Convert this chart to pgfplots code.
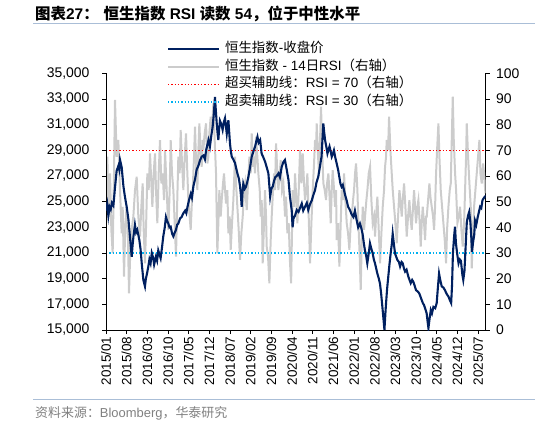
\documentclass[border=0pt]{standalone}
\usepackage{fontspec}
\setmainfont{Liberation Sans}
\newfontfamily\cjk{Noto Sans CJK SC}
\usepackage{pgfplots}
\pgfplotsset{compat=1.18}
\definecolor{hsi}{RGB}{0,32,96}
\definecolor{rsi}{RGB}{204,204,204}
\definecolor{rulec}{RGB}{170,190,215}
\definecolor{cyanl}{RGB}{0,176,240}
\definecolor{srcgray}{RGB}{128,128,128}
\pgfplotsset{
  common/.style={
    at={(106bp,95bp)}, anchor=south west, scale only axis,
    width=379.7bp, height=256.7bp,
    xmin=0, xmax=128.6,
    tick align=outside, major tick length=4bp,
    tick style={black, line width=0.7bp},
    axis line style={-, black, line width=0.7bp},
    /pgf/number format/assume math mode=true,
    ticklabel style={font=\fontsize{14}{16}\selectfont},
    clip=true,
  }
}
\begin{document}
\begin{tikzpicture}[x=1bp,y=1bp]
\useasboundingbox (0,0) rectangle (535,425);
\node[anchor=base west, inner sep=0] at (35,405) {\fontsize{15.5}{17}\selectfont\bfseries {\cjk\bfseries 图表}27{\cjk\bfseries ：}\hspace{5bp}{\cjk\bfseries 恒生指数} RSI {\cjk\bfseries 读数} 54{\cjk\bfseries ，位于中性水平}};
\draw[rulec, line width=1.2bp] (33,401.5) -- (535,401.5);
\draw[rulec, line width=1bp] (33,26) -- (535,26);
\node[anchor=base west, inner sep=0, text=srcgray] at (35,8) {\fontsize{13}{15}\selectfont {\cjk 资料来源：}Bloomberg{\cjk ，华泰研究}};

\begin{axis}[common,
  ymin=0, ymax=100, ytick={0,10,...,100},
  axis y line*=right, axis x line=none,
  yticklabel style={xshift=3bp},
]
\addplot[rsi, line width=2bp] coordinates {
(0,54.5) (0.45,67.5) (0.9,44.2) (1.36,61) (1.81,39) (2.26,29.9) (2.71,61) (3.05,89.6) (3.61,67.5) (4.18,74) (4.74,54.5) (5.31,37.7) (5.65,48) (6.1,20.8) (6.55,41.6) (7.0,48) (7.45,35) (7.79,14.3) (8.24,31.2) (8.69,39) (9.26,44.2) (9.82,54.5) (10.39,59.7) (10.95,44.2) (11.52,36.4) (11.97,48) (12.42,57.1) (12.76,39) (13.21,26) (13.66,44.2) (14.0,61) (14.45,54.5) (14.91,68.8) (15.36,57.1) (15.7,48) (16.15,61) (16.6,68.8) (16.94,54.5) (17.39,41.6) (17.84,61) (18.29,74) (18.74,57.1) (19.2,61) (19.65,50.6) (19.99,70.1) (20.55,54.5) (21.12,39) (21.57,54.5) (21.91,74) (22.36,61) (22.81,54.5) (23.26,41.6) (23.71,28.6) (24.16,51.9) (24.5,67.5) (24.95,61) (25.29,77.9) (25.75,64.9) (26.2,54.5) (26.65,67.5) (27.1,76.6) (27.55,61) (27.89,50.6) (28.34,44.2) (28.68,39) (29.02,48) (29.36,54.5) (29.81,67.5) (30.15,79.2) (30.6,61) (30.94,54.5) (31.28,70.1) (31.62,80.5) (32.07,67.5) (32.41,63.6) (32.75,74) (32.97,70.1) (33.42,76.6) (33.88,80.5) (34.33,64.9) (34.67,67.5) (35.0,76.6) (35.46,83.1) (35.91,77.9) (36.36,88.3) (36.81,74) (37.26,61) (37.71,29.9) (38.05,41.6) (38.39,54.5) (38.84,44.2) (39.18,50.6) (39.63,57.1) (39.97,61) (40.31,54.5) (40.65,49.3) (41.1,54.5) (41.44,37.7) (41.89,44.2) (42.23,31.2) (42.68,41.6) (43.13,50.6) (43.7,67.5) (44.04,57.1) (44.49,48) (44.94,39) (45.39,27.3) (45.84,37.7) (46.3,44.2) (46.75,54.5) (47.09,57.1) (47.66,46.7) (48.1,57.1) (48.56,67.5) (49.01,61) (49.35,76.6) (49.8,63.6) (50.14,67.5) (50.47,61) (50.81,75.3) (51.26,67.5) (51.6,61) (52.06,54.5) (52.39,44.2) (52.73,50.6) (53.07,26) (53.52,41.6) (53.86,54.5) (54.2,44.2) (54.43,32.5) (54.88,28.6) (55.33,18.2) (55.78,35) (56.12,44.2) (56.57,54.5) (56.91,61) (57.25,54.5) (57.59,72.7) (58.04,61) (58.38,54.5) (58.83,61) (59.17,66.2) (59.62,54.5) (60.07,57.1) (60.64,44.2) (60.98,51.9) (61.43,37.7) (61.88,41.6) (62.33,26) (62.7,18.2) (63.23,54.5) (63.69,48) (64.02,61) (64.47,50.6) (64.82,41.6) (65.27,54.5) (65.72,70.1) (66.17,57.1) (66.62,68.8) (67.07,57.1) (67.41,50.6) (67.86,54.5) (68.2,61) (68.65,44.2) (69.11,26) (69.56,41.6) (70.01,54.5) (70.46,64.9) (70.8,74) (71.14,70.1) (71.36,80.5) (71.82,67.5) (72.15,61) (72.49,74) (72.83,87) (73.28,67.5) (73.62,57.1) (74.07,54.5) (74.53,50.6) (74.86,57.1) (75.32,61) (75.77,50.6) (76.11,41.6) (76.45,54.5) (76.78,62.3) (77.24,54.5) (77.57,48) (77.91,54.5) (78.14,35) (78.59,41.6) (79.04,24.7) (79.49,41.6) (79.83,54.5) (80.28,50.6) (80.62,61) (81.07,50.6) (81.53,41.6) (81.98,37.7) (82.43,31.2) (82.88,41.6) (83.22,44.2) (83.67,50.6) (84.01,54.5) (84.35,61) (84.69,64.9) (85.14,54.5) (85.48,41.6) (85.93,28.6) (86.27,15.6) (86.61,35) (86.95,48) (87.4,39) (87.74,44.2) (88.19,50.6) (88.53,54.5) (88.98,61) (89.43,63.6) (89.88,50.6) (90.33,41.6) (90.79,44.2) (91.12,36.4) (91.46,44.2) (91.91,51.9) (92.37,39) (92.82,26) (93.27,37.7) (93.72,48) (94.17,54.5) (94.51,63.6) (94.85,67.5) (95.08,74) (95.53,70.1) (95.87,83.1) (96.32,70.1) (96.77,61) (97.11,54.5) (97.56,48) (98.01,41.6) (98.46,33.8) (98.92,44.2) (99.37,54.5) (99.71,50.6) (100.16,44.2) (100.5,50.6) (100.95,57.1) (101.4,48) (101.85,36.4) (102.3,44.2) (102.75,50.6) (103.09,44.2) (103.54,39) (103.99,48) (104.34,54.5) (104.67,48) (105.01,41.6) (105.46,48) (105.8,50.6) (106.25,41.6) (106.59,32.5) (106.93,41.6) (107.27,48) (107.72,41.6) (108.06,35) (108.4,44.2) (108.63,44.2) (109.08,50.6) (109.53,57.1) (109.87,51.9) (110.32,48) (110.77,44.2) (111.11,39) (111.45,48) (111.79,61) (112.13,70.1) (112.58,80.5) (112.92,67.5) (113.37,54.5) (113.82,48) (114.27,41.6) (114.72,35) (115.18,26) (115.51,39) (115.97,48) (116.42,54.5) (116.76,57.1) (117.1,74) (117.44,90.9) (117.78,74) (118.23,61) (118.57,54.5) (119.02,41.6) (119.47,44.2) (119.92,48) (120.37,39) (120.82,32.5) (121.28,41.6) (121.61,54.5) (121.95,67.5) (122.18,80.5) (122.63,67.5) (123.08,57.1) (123.53,48) (123.87,24) (124.32,39) (124.66,48) (125.11,54.5) (125.56,61) (126.01,67.5) (126.47,74) (126.81,61) (127.26,57.1) (127.71,64.9) (128.05,61) (128.5,53.2) (128.6,56)
};
\addplot[red, line width=1.3bp, dash pattern=on 1.3bp off 2bp] coordinates {(0,70) (128.6,70)};
\addplot[cyanl, line width=1.3bp, dash pattern=on 1.3bp off 2bp] coordinates {(0,30) (128.6,30)};
\end{axis}

\begin{axis}[common,
  ymin=15000, ymax=35000, ytick={15000,17000,...,35000},
  axis y line*=left, axis x line*=bottom,
  /pgf/number format/fixed,
  /pgf/number format/1000 sep={,},
  yticklabel style={xshift=-9bp},
  scaled y ticks=false,
  xtick={0,7,...,126},
  xticklabels={2015/01,2015/08,2016/03,2016/10,2017/05,2017/12,2018/07,2019/02,2019/09,2020/04,2020/11,2021/06,2022/01,2022/08,2023/03,2023/10,2024/05,2024/12,2025/07},
  xticklabel style={rotate=90, anchor=east, font=\fontsize{13.5}{15}\selectfont, xshift=1bp},
  legend style={at={(0.16,1.125)}, anchor=north west, draw=none, fill=none,
    font=\fontsize{13.5}{15}\selectfont, row sep=1.5bp, column sep=4bp, inner sep=0pt,
    nodes={inner sep=1bp, text height=10.5bp, text depth=3.5bp}},
  legend cell align=left,
  legend image code/.code={\draw[#1] (0bp,0bp) -- (51bp,0bp);},
]
\addplot[hsi, line width=2.1bp] coordinates {
(0,24300) (0.4,24800) (0.8,23900) (1.2,24600) (1.6,24400) (2.0,24900) (2.5,24700) (3.05,26100) (3.6,27400) (4.2,27800) (4.5,27500) (4.75,28250) (5.3,27700) (5.9,26200) (6.4,25400) (7.0,24600) (7.6,23600) (8.1,22300) (8.7,20700) (9.0,21600) (9.3,22300) (9.8,23200) (10.2,22600) (10.6,22800) (11.3,22000) (11.7,21300) (12.1,20200) (12.65,18900) (13.2,18400) (13.5,19000) (13.8,19300) (14.3,19900) (14.7,20500) (15.1,20200) (15.5,21000) (16.0,20600) (16.3,20100) (16.9,20700) (17.3,20400) (17.7,21200) (18.1,20900) (18.5,20600) (19.0,21500) (19.4,22300) (19.9,23000) (20.3,23800) (20.7,23500) (21.1,23300) (21.5,23000) (21.9,23050) (22.4,22500) (22.8,22300) (23.3,22600) (23.7,22800) (24.1,23200) (24.5,23300) (25.1,23700) (25.6,23800) (26.2,24100) (26.8,24300) (27.2,24100) (27.6,24600) (28.2,25200) (28.7,25600) (29.1,25300) (29.6,26200) (30.2,26800) (30.7,27500) (31.3,27800) (31.8,28200) (32.4,28500) (33.0,28600) (33.5,28300) (33.9,29000) (34.3,29400) (34.7,29800) (35.2,29300) (35.7,30200) (36.1,30800) (36.5,31800) (36.9,33150) (37.2,32100) (37.5,31100) (37.8,30300) (38.05,29800) (38.3,30600) (38.6,31300) (39.1,31000) (39.5,30600) (39.9,31200) (40.3,31500) (40.6,30900) (40.9,30300) (41.2,30900) (41.45,31350) (41.7,30500) (42.0,29500) (42.3,28900) (42.6,28500) (43.1,28300) (43.7,28000) (44.1,27600) (44.5,27200) (45.0,26800) (45.4,26200) (45.7,25500) (45.95,24600) (46.2,25600) (46.5,26400) (47.0,26000) (47.4,26150) (47.8,26500) (48.2,26900) (48.8,27700) (49.35,28500) (49.9,28900) (50.5,29300) (50.9,29700) (51.3,30050) (51.7,29600) (52.2,29800) (52.7,28750) (53.2,28500) (53.9,28100) (54.4,27700) (55.0,27200) (55.3,26300) (55.6,25400) (56.0,26000) (56.5,26200) (56.9,26600) (57.3,26900) (57.8,27000) (58.4,27200) (58.9,26900) (59.5,27700) (60.1,28100) (60.6,28250) (61.2,27500) (61.8,26700) (62.3,25400) (62.9,24300) (63.2,23000) (63.5,23700) (64.0,23900) (64.6,24350) (65.2,24200) (65.7,24500) (66.3,24850) (66.8,24300) (67.4,24600) (68.0,24900) (68.5,24350) (69.1,24800) (69.7,25100) (70.2,25500) (70.8,25900) (71.3,26500) (71.9,26950) (72.5,27800) (73.0,28500) (73.3,29800) (73.6,31100) (73.9,30400) (74.2,29800) (74.6,29300) (75.0,28750) (75.3,29000) (75.7,29300) (76.1,28900) (76.45,28500) (76.8,28700) (77.2,29000) (77.6,28500) (78.1,28000) (78.6,27500) (79.0,26950) (79.4,26400) (79.8,26150) (80.2,26300) (80.6,25900) (81.0,25500) (81.5,25100) (82.0,24600) (82.6,24350) (83.2,24000) (83.8,23800) (84.3,24300) (84.9,23550) (85.4,23000) (86.0,23300) (86.5,22900) (86.9,22500) (87.3,21800) (87.7,21200) (88.1,20800) (88.5,20200) (89.0,21000) (89.4,21750) (89.9,21300) (90.3,21000) (90.7,20500) (91.1,20200) (91.5,19800) (91.9,19400) (92.4,19000) (92.8,18600) (93.2,17800) (93.6,16800) (94.0,15800) (94.3,15000) (94.6,16200) (94.85,17100) (95.2,18200) (95.6,19150) (96.0,20100) (96.4,20950) (96.8,21700) (97.1,22500) (97.5,21700) (97.9,20950) (98.3,20700) (98.7,20450) (99.2,20300) (99.6,19950) (100.1,20300) (100.5,20200) (100.9,19800) (101.3,19550) (101.8,19700) (102.4,19150) (102.8,18900) (103.2,18650) (103.7,18900) (104.1,18750) (104.6,18400) (105.0,18100) (105.6,18000) (106.1,17850) (106.5,17600) (106.9,17350) (107.3,17100) (107.7,16950) (108.2,16600) (108.6,16300) (108.9,15700) (109.2,15150) (109.6,15900) (110.0,16550) (110.4,16300) (110.9,16800) (111.5,16700) (112.0,17100) (112.4,18300) (112.8,19400) (113.2,18900) (113.7,18400) (114.3,18300) (114.8,18100) (115.4,17800) (116.0,17600) (116.5,17300) (116.9,17100) (117.2,18500) (117.5,21000) (117.9,22300) (118.2,23050) (118.5,21800) (118.9,21000) (119.4,20200) (119.8,20500) (120.2,20400) (120.7,19300) (121.0,18900) (121.4,19600) (121.8,21500) (122.2,23400) (122.6,23900) (123.0,24200) (123.4,23400) (123.7,22300) (123.95,21100) (124.3,21800) (124.7,22400) (125.0,23500) (125.4,23200) (125.9,23800) (126.3,24200) (126.7,24600) (127.1,24500) (127.5,25100) (128.0,25300) (128.4,25400) (128.6,25300)
};
\addlegendentry{{\cjk 恒生指数}-{\cjk 收盘价}}
\addlegendimage{rsi, line width=2bp}
\addlegendentry{{\cjk 恒生指数} - 14{\cjk 日}RSI{\cjk （右轴）}}
\addlegendimage{red, line width=1.3bp, dash pattern=on 1.3bp off 2bp}
\addlegendentry{{\cjk 超买辅助线：}RSI = 70{\cjk （右轴）}}
\addlegendimage{cyanl, line width=1.3bp, dash pattern=on 1.3bp off 2bp}
\addlegendentry{{\cjk 超卖辅助线：}RSI = 30{\cjk （右轴）}}
\end{axis}
\end{tikzpicture}
\end{document}
